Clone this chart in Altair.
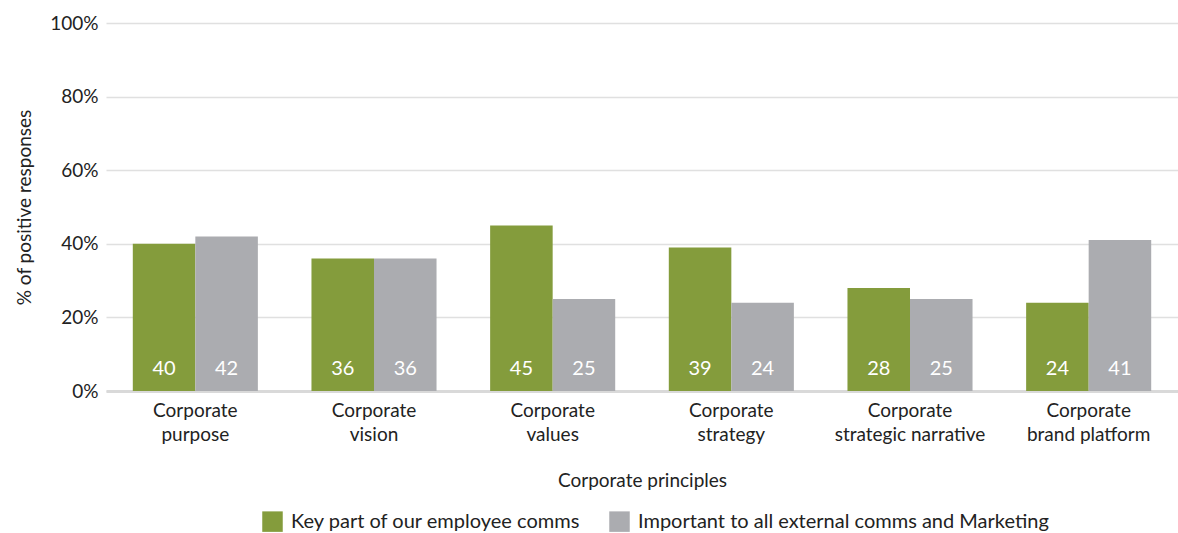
import altair as alt
import pandas as pd

categories = ["Corporate purpose", "Corporate vision", "Corporate values",
              "Corporate strategy", "Corporate strategic narrative", "Corporate brand platform"]
series = ["Key part of our employee comms", "Important to all external comms and Marketing"]
employee = [40, 36, 45, 39, 28, 24]
external = [42, 36, 25, 24, 25, 41]

rows = []
for c, a, b in zip(categories, employee, external):
    rows.append({"category": c, "series": series[0], "value": a})
    rows.append({"category": c, "series": series[1], "value": b})
df = pd.DataFrame(rows)

FONT = "Lato"
green = "#849c3c"
gray = "#abacb0"

x = alt.X("category:N", sort=categories, title="Corporate principles",
          scale=alt.Scale(paddingInner=0.3, paddingOuter=0.15),
          axis=alt.Axis(labelAngle=0, ticks=False, domainColor="#d9d9d9", domainWidth=3,
                        labelExpr="[slice(datum.label,0,9), slice(datum.label,10)]",
                        labelFontSize=19, labelLineHeight=24, labelPadding=10,
                        labelColor="#222", titleFontSize=19, titleFont=FONT, labelFont=FONT,
                        titleFontWeight="normal", titlePadding=27, titleColor="#222"))
xo = alt.XOffset("series:N", sort=series)
color = alt.Color("series:N", sort=series, scale=alt.Scale(domain=series, range=[green, gray]),
                  legend=alt.Legend(title=None, orient="none", direction="horizontal",
                                    legendX=156, legendY=488, symbolType="square",
                                    symbolSize=420, symbolStrokeWidth=0, symbolOpacity=1,
                                    labelFontSize=20, labelFont=FONT, labelColor="#222",
                                    labelLimit=0, columnPadding=28, labelOffset=8))

bars = alt.Chart(df).mark_bar(opacity=1).encode(
    x=x, xOffset=xo,
    y=alt.Y("value:Q", scale=alt.Scale(domain=[0, 100]), title="% of positive responses",
            axis=alt.Axis(values=[0, 20, 40, 60, 80, 100], labelExpr="datum.value + '%'",
                          ticks=False, domain=False, gridColor="#e0e0e0", gridWidth=1.5,
                          labelFontSize=19, labelFont=FONT, labelColor="#222", labelPadding=8,
                          titleFontSize=19, titleFont=FONT, titleFontWeight="normal",
                          titleColor="#222", titlePadding=15)),
    color=color,
)

labels = alt.Chart(df).mark_text(color="white", fontSize=20, font=FONT, baseline="middle",
                                 dy=-22).encode(
    x=alt.X("category:N", sort=categories), xOffset=xo,
    y=alt.datum(0),
    text=alt.Text("value:Q"),
)

chart = alt.layer(bars, labels).properties(
    width=1072, height=368,
    autosize=alt.AutoSizeParams(type="none"),
    padding={"left": 106, "top": 23, "right": 0, "bottom": 142},
).configure_view(stroke=None).configure_axisX(grid=False)

chart.save("out.html", embed_options={"renderer": "svg", "actions": False})
